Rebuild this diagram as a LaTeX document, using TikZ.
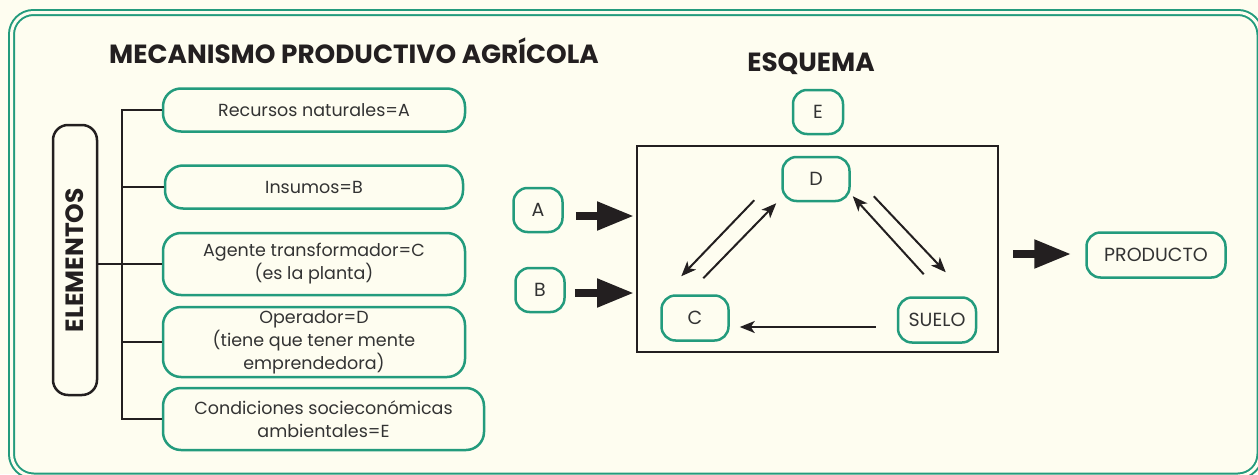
\documentclass[tikz,border=0pt]{standalone}
\usepackage{fontspec}
\setmainfont{Poppins}
\usepackage{tikz}
\usetikzlibrary{arrows.meta, positioning}

\definecolor{verde}{RGB}{35,155,125}
\definecolor{crema}{RGB}{254,253,240}
\definecolor{tinta}{RGB}{51,51,51}
\definecolor{negro}{RGB}{35,31,32}

\begin{document}
\begin{tikzpicture}[x=1pt,y=-1pt,on grid,
    caja/.style={draw=verde, line width=2.5pt, rounded corners=18pt, align=center, text=tinta,
        minimum width=302pt, minimum height=43pt, inner sep=0pt, font=\fontsize{17.5}{23}\selectfont},
    letra/.style={draw=verde, line width=2.5pt, rounded corners=14pt, text=tinta,
        minimum width=49pt, minimum height=44pt, inner sep=0pt, font=\fontsize{19}{20}\selectfont},
    titulo/.style={text=negro, font=\bfseries\fontsize{26.3}{30}\selectfont},
    rama/.style={draw=negro, line width=2.5pt},
    flecha/.style={draw=negro, line width=2pt, -{Stealth[length=15pt,width=12pt,inset=4pt]}},
    gorda/.style={draw=negro, line width=8pt, -{Triangle[length=37pt,width=27pt]}}]

    \fill[crema] (0,0) rectangle (1258,474);
    \useasboundingbox (0,0) rectangle (1258,474);
    \draw[verde, line width=2pt, double=crema, double distance=3pt, rounded corners=22pt]
        (11.5,12.5) rectangle (1260,476);

    % elementos
    \node[titulo]   (tit)   at (354,51)             {MECANISMO PRODUCTIVO AGRÍCOLA};
    \node[caja]     (rA)    at (314,110)            {Recursos naturales=A};
    \node[caja, minimum width=298pt]  (rB)  [below=77pt of rA]   {Insumos=B};
    \node[caja, minimum height=62pt]  (rC)  [below=77pt of rB]   {Agente transformador=C\\(es la planta)};
    \node[caja, minimum height=70pt]  (rD)  [below=78pt of rC]   {Operador=D\\(tiene que tener mente\\emprendedora)};
    \node[caja, minimum width=321pt, minimum height=62pt]  (rE)  [below=77pt of rD, xshift=9.5pt]
        {Condiciones socieconómicas\\ambientales=E};
    \node[draw=negro, line width=2.5pt, rounded corners=15pt, minimum width=44pt, minimum height=270pt,
        inner sep=0pt, text=negro, font=\bfseries\fontsize{25}{30}\selectfont] (elem) at (75,260)
        {\rotatebox{90}{ELEMENTOS}};

    \coordinate (bus) at (122,0);
    \draw[rama] (rA.west) -| (bus |- rE.west) -- (rE.west);
    \foreach \r in {rB,rD}
        \draw[rama] (\r.west) -- (bus |- \r.west);
    \draw[rama] (elem.east |- rC.west) -- (rC.west);

    % esquema
    \node[titulo]   (tesq)  at (811,64)             {ESQUEMA};
    \node[draw=negro, line width=2pt, minimum width=361pt, minimum height=206pt, inner sep=0pt]
        (esq) at (817.5,249) {};
    \node[letra, minimum width=67pt]    (D)     at (816,179)            {D};
    \node[letra, minimum width=50pt]    (E)     [above=67pt of D, xshift=2pt] {E};
    \node[letra, minimum width=67pt, minimum height=45pt]   (C)     at (695,318)    {C};
    \node[letra, minimum width=78pt, minimum height=45pt]   (S)     at (937,320)    {SUELO};
    \node[letra]    (A)     at (538,210)            {A};
    \node[letra]    (B)     at (540,290)            {B};
    \node[letra, minimum width=139pt, minimum height=45pt]  (P)     at (1156,255)   {PRODUCTO};

    \draw[flecha] ([xshift=-27pt,yshift=2pt]D.south west) -- ([xshift=21pt,yshift=18pt]C.north west);
    \draw[flecha] ([xshift=43pt,yshift=16pt]C.north west) -- ([xshift=-5pt,yshift=-1pt]D.south west);
    \draw[flecha] ([xshift=27pt,yshift=22pt]S.north west) -- ([xshift=2pt,yshift=6pt]D.south east);
    \draw[flecha] ([xshift=23pt,yshift=6pt]D.south east) -- ([xshift=49pt,yshift=24pt]S.north west);
    \draw[flecha] ([xshift=-21pt,yshift=-7pt]S.west) -- ([xshift=10pt,yshift=-9pt]C.east);

    \draw[gorda] ([xshift=12pt,yshift=-6pt]A.east) -- ([xshift=-2pt,yshift=33pt]esq.west);
    \draw[gorda] ([xshift=9pt,yshift=-3pt]B.east) -- ([xshift=-2pt,yshift=-44pt]esq.west);
    \draw[gorda] ([xshift=14pt,yshift=-5pt]esq.east) -- ([xshift=-14pt,yshift=1pt]P.west);
\end{tikzpicture}
\end{document}
